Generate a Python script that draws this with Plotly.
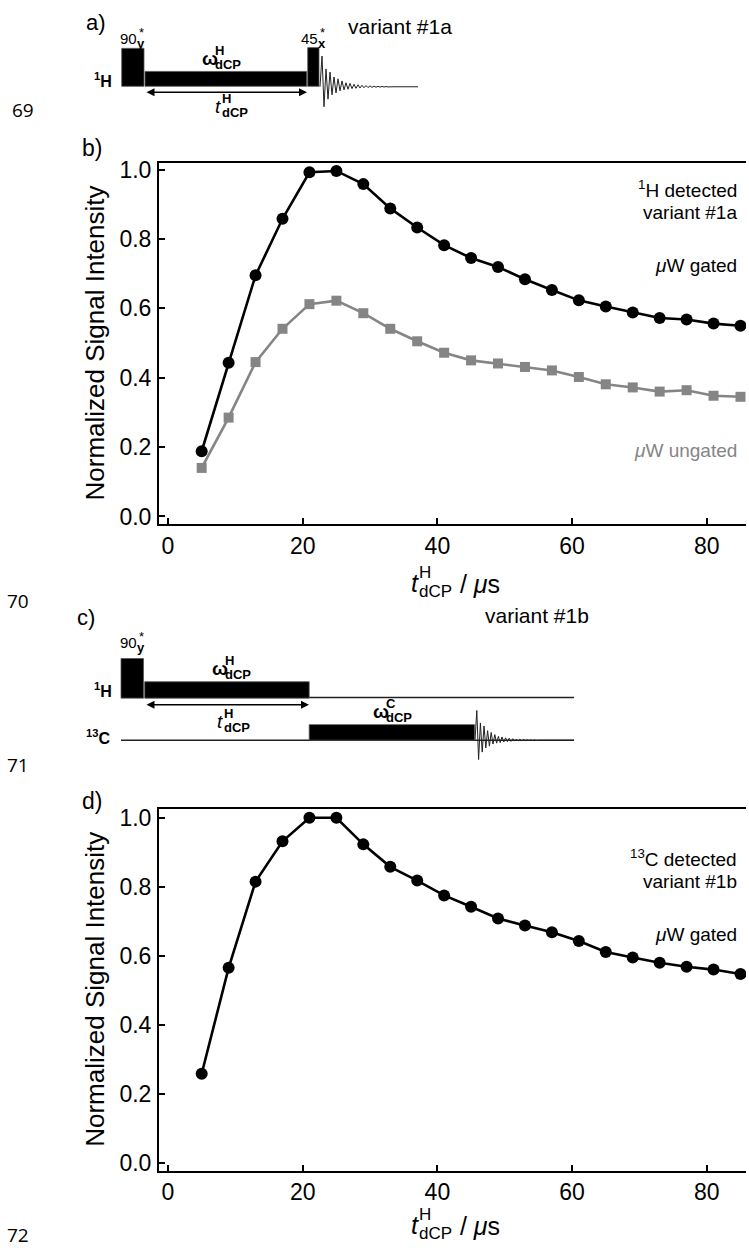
import plotly.graph_objects as go

W, H = 749, 1253

# ---------------- data ----------------
t_dcp = [5, 9, 13, 17, 21, 25, 29, 33, 37, 41, 45, 49, 53, 57, 61, 65, 69, 73, 77, 81, 85]
b_gated = [0.188, 0.443, 0.695, 0.858, 0.992, 0.996, 0.958, 0.888, 0.833, 0.782, 0.745,
           0.719, 0.684, 0.653, 0.623, 0.605, 0.588, 0.572, 0.568, 0.556, 0.550]
b_ungated = [0.140, 0.285, 0.445, 0.541, 0.612, 0.622, 0.586, 0.541, 0.505, 0.472, 0.450,
             0.441, 0.431, 0.421, 0.402, 0.381, 0.372, 0.360, 0.364, 0.348, 0.345]
d_gated = [0.258, 0.565, 0.815, 0.932, 1.000, 1.000, 0.923, 0.858, 0.818, 0.775, 0.742,
           0.708, 0.688, 0.668, 0.643, 0.611, 0.595, 0.580, 0.568, 0.560, 0.547]
x_ticks = [0, 20, 40, 60, 80]
y_ticks = [0.0, 0.2, 0.4, 0.6, 0.8, 1.0]
# decorative FID glyph (relative amplitudes, negative = up)
fid_shape = [0, -1.0, 0.65, -0.58, 0.40, -0.48, 0.26, -0.32, 0.20, -0.26, 0.13, -0.19,
             0.10, -0.13, 0.08, -0.11, 0.06, -0.08, 0.05, -0.065, 0.04, -0.05, 0.03,
             -0.04, 0.026, -0.032, 0.02, -0.022, 0.016, -0.016, 0.012, -0.012, 0.008,
             -0.008, 0.005, -0.005, 0.0]

FONT = "Liberation Sans, Arial, Helvetica, sans-serif"
NUMFONT = "Open Sans, Noto Sans, sans-serif"
GRAY = "#858585"

fig = go.Figure()

# ---------------- data traces ----------------
fig.add_trace(go.Scatter(x=t_dcp, y=b_gated, mode="lines+markers",
                         line=dict(color="black", width=2.6),
                         marker=dict(symbol="circle", size=12, color="black"),
                         xaxis="x", yaxis="y", showlegend=False))
fig.add_trace(go.Scatter(x=t_dcp, y=b_ungated, mode="lines+markers",
                         line=dict(color=GRAY, width=2.6),
                         marker=dict(symbol="square", size=10, color=GRAY),
                         xaxis="x", yaxis="y", showlegend=False))
fig.add_trace(go.Scatter(x=t_dcp, y=d_gated, mode="lines+markers",
                         line=dict(color="black", width=2.6),
                         marker=dict(symbol="circle", size=12, color="black"),
                         xaxis="x2", yaxis="y2", showlegend=False))

# ---------------- axes ----------------
def px2fx(px):
    return px / W

def py2fy(py):
    return 1 - py / H

X_LEFT, X_RIGHT = 159, 746
X0_PX, X_PER = 168, 6.735
xr = [(X_LEFT - X0_PX) / X_PER, (X_RIGHT - X0_PX) / X_PER]

TICKSIZE = 23
common_x = dict(range=xr, tickvals=x_ticks, ticks="inside", ticklen=6, tickwidth=1.5,
                tickcolor="black", showline=True, linecolor="black", linewidth=2,
                mirror=True, showgrid=False, zeroline=False,
                tickfont=dict(family=FONT, size=TICKSIZE, color="black"),
                ticklabelstandoff=0)
common_y = dict(tickvals=y_ticks, tickformat=".1f", ticks="inside", ticklen=6,
                tickwidth=1.5, tickcolor="black", showline=True, linecolor="black",
                linewidth=2, showgrid=False, zeroline=False,
                tickfont=dict(family=FONT, size=TICKSIZE, color="black"),
                ticklabelstandoff=1)

# panel b: y=1 at 165px, y=0 at 515px ; frame 158..523
b_top, b_bot, b_y1, b_y0 = 158, 523, 165, 515
b_unit = b_y0 - b_y1
# panel d: y=1 at 819px, y=0 at 1167px ; frame 810..1175
d_top, d_bot, d_y1, d_y0 = 810, 1175, 819, 1167
d_unit = d_y0 - d_y1

fig.update_layout(
    xaxis=dict(domain=[px2fx(X_LEFT), px2fx(X_RIGHT)], anchor="y", **common_x),
    yaxis=dict(domain=[py2fy(b_bot), py2fy(b_top)], anchor="x",
               range=[(b_y0 - b_bot) / b_unit, (b_y0 - b_top) / b_unit], **common_y),
    xaxis2=dict(domain=[px2fx(X_LEFT), px2fx(X_RIGHT)], anchor="y2", **common_x),
    yaxis2=dict(domain=[py2fy(d_bot), py2fy(d_top)], anchor="x2",
                range=[(d_y0 - d_bot) / d_unit, (d_y0 - d_top) / d_unit], **common_y),
    # overlay pixel-coordinate axes for the pulse-sequence schematics and labels
    xaxis3=dict(domain=[0, 1], range=[0, W], visible=False, anchor="y3", fixedrange=True),
    yaxis3=dict(domain=[0, 1], range=[H, 0], visible=False, anchor="x3", fixedrange=True),
    width=W, height=H, margin=dict(l=0, r=0, t=0, b=0),
    paper_bgcolor="white", plot_bgcolor="rgba(0,0,0,0)",
    showlegend=False,
)

def ann(x, y, text, size, color="black", xanchor="center", yanchor="middle",
        angle=0, family=FONT):
    fig.add_annotation(x=x, y=y, xref="x3", yref="y3", text=text, showarrow=False,
                       font=dict(size=size, color=color, family=family),
                       xanchor=xanchor, yanchor=yanchor, textangle=angle,
                       borderpad=0)

def stacked(x, y, base, sup, sub, size, w_base, sub_size=None, color="black", sup_dx=0):
    ss = sub_size or size * 0.72
    ann(x, y, base, size, color=color, xanchor="left")
    ann(x + w_base, y + 0.33 * size, sub, ss, color=color, xanchor="left")
    ann(x + w_base + sup_dx, y - 0.42 * size, sup, ss, color=color, xanchor="left")

def rect(x0, y0, x1, y1):
    fig.add_shape(type="rect", x0=x0, x1=x1, y0=y0, y1=y1, xref="x3", yref="y3",
                  fillcolor="black", line=dict(width=0.8, color="#555555"), layer="above")

def hline(x0, x1, y, width=1.5):
    fig.add_shape(type="line", x0=x0, x1=x1, y0=y, y1=y, xref="x3", yref="y3",
                  line=dict(width=width, color="#222222"), layer="above")

def darrow(x0, x1, y):
    fig.add_annotation(x=x1, y=y, ax=x0, ay=y, xref="x3", yref="y3", axref="x3",
                       ayref="y3", text="", showarrow=True, arrowhead=2,
                       arrowside="end+start", arrowwidth=1.6, arrowsize=1.0,
                       arrowcolor="black")

def fid(x_start, x_end, base, amp, step):
    xs = [x_start + i * step for i in range(len(fid_shape))] + [x_end]
    ys = [base + amp * v for v in fid_shape] + [base]
    fig.add_trace(go.Scatter(x=xs, y=ys, mode="lines", line=dict(color="#222222", width=1),
                             xaxis="x3", yaxis="y3", showlegend=False, hoverinfo="skip"))

# ---------------- panel a schematic ----------------
ann(96, 17, "a)", 22)
ann(347, 21, "variant #1a", 21, xanchor="left")
rect(121.7, 42.7, 144, 81)
rect(145, 66, 306.7, 81)
rect(307.7, 42, 319, 81)
fid(320, 418, 81.5, 31, 2.0)
stacked(119, 33, "90", "*", "<b>y</b>", 15, 16.5, sub_size=13, sup_dx=2)
stacked(300, 33, "45", "*", "<b>x</b>", 15, 16.5, sub_size=13, sup_dx=2)
ann(113, 75, "<b><sup>1</sup>H</b>", 16, xanchor="right")
stacked(201, 53, "<b>ω</b>", "<b>H</b>", "<b>dCP</b>", 19, 13, sub_size=13)
darrow(145, 307, 87)
stacked(214, 101, "<i>t</i>", "<b>H</b>", "<b>dCP</b>", 19, 6.5, sub_size=13)
ann(35, 105, "69", 19, xanchor="right", family=NUMFONT)

# ---------------- panel b labels ----------------
ann(92, 143, "b)", 23)
ann(95, (b_top + b_bot) / 2, "Normalized Signal Intensity", 26, angle=-90)
ann(738, 185, "<sup>1</sup>H detected", 19, xanchor="right")
ann(738, 208, "variant #1a", 19, xanchor="right")
ann(738, 262, "<i>μ</i>W gated", 19, xanchor="right")
ann(738, 448, "<i>μ</i>W ungated", 19, color=GRAY, xanchor="right")
stacked(410, 582, "<i>t</i>", "H", "dCP", 25, 7.5, sub_size=17)
ann(452, 583, " / <i>μ</i>s", 25, xanchor="left")
ann(30, 600, "70", 19, xanchor="right", family=NUMFONT)

# ---------------- panel c schematic ----------------
ann(86, 617, "c)", 22)
ann(484, 615, "variant #1b", 21, xanchor="left")
hline(309, 574, 697.7)
hline(121, 574, 740.7)
rect(121, 658.3, 143.5, 698.3)
rect(144.7, 681.7, 309.2, 698.3)
rect(309.2, 725, 474.6, 740.7)
fid(475, 574, 740.7, 30, 1.8)
stacked(119, 642, "90", "*", "<b>y</b>", 15, 16.5, sub_size=13, sup_dx=2)
ann(113, 690, "<b><sup>1</sup>H</b>", 16, xanchor="right")
ann(111, 737, "<b><sup>13</sup>C</b>", 16, xanchor="right")
stacked(211, 668, "<b>ω</b>", "<b>H</b>", "<b>dCP</b>", 19, 13, sub_size=13)
darrow(145, 309, 705)
stacked(216, 722, "<i>t</i>", "<b>H</b>", "<b>dCP</b>", 19, 6.5, sub_size=13)
stacked(372, 712, "<b>ω</b>", "<b>C</b>", "<b>dCP</b>", 19, 13, sub_size=13)
ann(30, 766, "71", 19, xanchor="right", family=NUMFONT)

# ---------------- panel d labels ----------------
ann(92, 802, "d)", 23)
ann(95, (d_top + d_bot) / 2, "Normalized Signal Intensity", 26, angle=-90)
ann(738, 860, "<sup>13</sup>C detected", 19, xanchor="right")
ann(738, 883, "variant #1b", 19, xanchor="right")
ann(738, 937, "<i>μ</i>W gated", 19, xanchor="right")
stacked(410, 1230, "<i>t</i>", "H", "dCP", 25, 7.5, sub_size=17)
ann(452, 1231, " / <i>μ</i>s", 25, xanchor="left")
ann(30, 1240, "72", 19, xanchor="right", family=NUMFONT)

fig.write_html("out.html")
